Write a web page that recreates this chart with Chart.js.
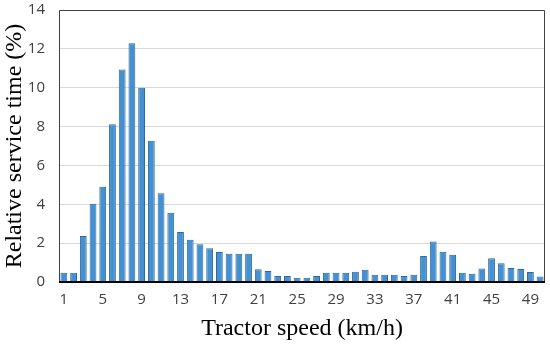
<!DOCTYPE html>
<html>
<head>
<meta charset="utf-8">
<script src="https://cdn.jsdelivr.net/npm/chart.js@4/dist/chart.umd.min.js"></script>
<style>
html,body{margin:0;padding:0;background:#fff;}
#wrap{width:550px;height:347px;}
</style>
</head>
<body>
<div id="wrap"><canvas id="c" width="550" height="347"></canvas></div>
<script>
const speeds = [1,2,3,4,5,6,7,8,9,10,11,12,13,14,15,16,17,18,19,20,21,22,23,24,25,26,27,28,29,30,31,32,33,34,35,36,37,38,39,40,41,42,43,44,45,46,47,48,49,50];
const serviceTime = [0.47,0.47,2.37,4.03,4.9,8.12,10.94,12.29,10.0,7.27,4.57,3.56,2.57,2.18,1.94,1.74,1.55,1.45,1.45,1.45,0.66,0.56,0.31,0.31,0.22,0.22,0.31,0.47,0.47,0.47,0.53,0.63,0.37,0.37,0.37,0.31,0.37,1.34,2.08,1.56,1.4,0.47,0.42,0.69,1.22,0.97,0.72,0.67,0.52,0.28];
const yTicks = [0,2,4,6,8,10,12,14];
const xLabelEvery = 4;

const borderPlugin = {
  id: 'plotBorder',
  afterDraw(chart) {
    const a = chart.chartArea, ctx = chart.ctx;
    ctx.save();
    ctx.strokeStyle = '#404040';
    ctx.lineWidth = 1;
    ctx.beginPath();
    ctx.moveTo(a.left + 0.5, a.bottom);
    ctx.lineTo(a.left + 0.5, a.top + 0.5);
    ctx.lineTo(a.right - 0.5, a.top + 0.5);
    ctx.lineTo(a.right - 0.5, a.bottom);
    ctx.stroke();
    ctx.strokeStyle = '#000';
    ctx.lineWidth = 2;
    ctx.beginPath();
    ctx.moveTo(a.left, a.bottom);
    ctx.lineTo(a.right, a.bottom);
    ctx.stroke();
    ctx.restore();
  }
};

new Chart(document.getElementById('c'), {
  type: 'bar',
  data: {
    labels: speeds,
    datasets: [{
      data: serviceTime,
      backgroundColor: '#4590d0',
      borderColor: '#2c6aa3',
      borderWidth: 1,
      barPercentage: 0.7,
      categoryPercentage: 1.0
    }]
  },
  options: {
    responsive: false,
    animation: false,
    devicePixelRatio: 1,
    layout: { padding: { top: 10, right: 5, left: 0, bottom: 0 } },
    plugins: { legend: { display: false }, tooltip: { enabled: false } },
    scales: {
      x: {
        grid: { display: false, drawTicks: false },
        border: { display: false },
        ticks: {
          autoSkip: false,
          maxRotation: 0,
          padding: 9,
          color: '#404040',
          font: { family: 'Open Sans', size: 15 },
          callback: function(v, i) { return i % xLabelEvery === 0 ? speeds[i] : ''; }
        },
        title: {
          display: true,
          text: 'Tractor speed (km/h)',
          color: '#000',
          font: { family: 'Liberation Serif', size: 24 },
          padding: { top: 0, bottom: 4 }
        },
        afterFit(s) { s.height = 65; }
      },
      y: {
        min: 0, max: 14,
        afterBuildTicks(s) { s.ticks = yTicks.map(v => ({ value: v })); },
        grid: { color: '#d9d9d9', lineWidth: 1, drawTicks: false },
        border: { display: false },
        ticks: {
          padding: 14,
          color: '#404040',
          font: { family: 'Open Sans', size: 15 }
        },
        title: {
          display: true,
          text: 'Relative service time (%)',
          color: '#000',
          font: { family: 'Liberation Serif', size: 24 },
          padding: { top: 0, bottom: 0 }
        },
        afterFit(s) { s.width = 59; s.paddingTop = 0; s.paddingBottom = 0; }
      }
    }
  },
  plugins: [borderPlugin]
});
</script>
</body>
</html>
